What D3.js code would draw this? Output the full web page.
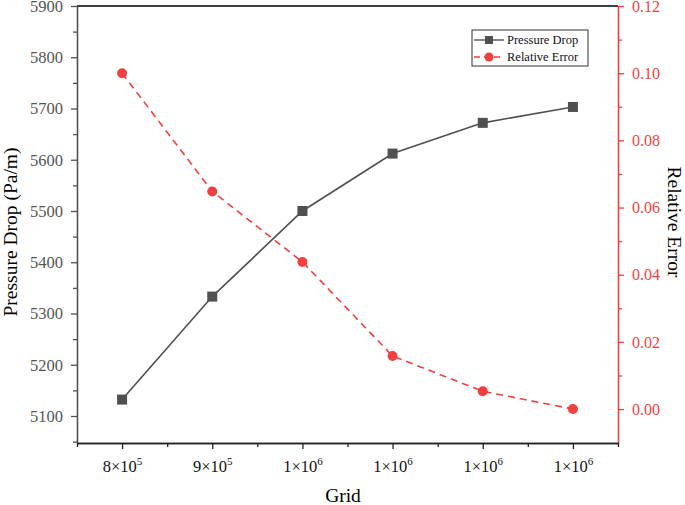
<!DOCTYPE html>
<html><head><meta charset="utf-8">
<script src="https://cdn.jsdelivr.net/npm/d3@7"></script>
<style>body{margin:0;background:#fff}text{font-family:"Liberation Serif","Times New Roman",serif}</style>
</head><body><svg id="c" width="685" height="505"></svg>
<script>
const categories = ["8×10^5","9×10^5","1×10^6","1×10^6","1×10^6","1×10^6"];
const pressureDrop = [5132, 5333, 5500, 5612, 5672, 5703];
const relativeError = [0.100, 0.0648, 0.0438, 0.0158, 0.0053, 0.0];
const leftTicks = [5100,5200,5300,5400,5500,5600,5700,5800,5900];
const rightTicks = [0.00,0.02,0.04,0.06,0.08,0.10,0.12];

const FONT = '"Liberation Serif","Times New Roman",serif';
const svg = d3.select("#c");
const L=77, R=618, T=6, B=443;
const grey="#505050", red="#f23f3f";
const x = d3.scalePoint().domain(d3.range(categories.length)).range([L,R]).padding(0.5);
const yL = d3.scaleLinear().domain([5047.3, 5900]).range([B,T]);
const yR = d3.scaleLinear().domain([-0.0101, 0.12]).range([B,T]);

// top frame
svg.append("line").attr("x1",L).attr("x2",R).attr("y1",T).attr("y2",T).attr("stroke","#000").attr("stroke-width",1.3);

// left axis
const gl = svg.append("g").attr("transform",`translate(${L},0)`);
gl.call(d3.axisLeft(yL).tickValues(leftTicks).tickSize(6).tickPadding(8).tickSizeOuter(0).tickFormat(d3.format("d")));
gl.append("g").call(d3.axisLeft(yL).tickValues(d3.range(5050,5900,100)).tickSize(4).tickFormat("").tickSizeOuter(0));
gl.selectAll("path,line").attr("stroke",grey).attr("stroke-width",1.3);
gl.attr("font-family",FONT).attr("font-size",16.5);
gl.selectAll("text").attr("fill","#555");

// right axis
const gr = svg.append("g").attr("transform",`translate(${R},0)`);
gr.call(d3.axisRight(yR).tickValues(rightTicks).tickSize(6).tickPadding(8).tickSizeOuter(0).tickFormat(d3.format(".2f")));
gr.append("g").call(d3.axisRight(yR).tickValues([0.01,0.03,0.05,0.07,0.09,0.11]).tickSize(4).tickFormat("").tickSizeOuter(0));
gr.selectAll("path,line").attr("stroke",red).attr("stroke-width",1.3);
gr.attr("font-family",FONT).attr("font-size",16);
gr.selectAll("text").attr("fill",red);

// bottom axis
const gb = svg.append("g").attr("transform",`translate(0,${B})`).attr("font-family",FONT);
const gbMain = gb.append("g").call(d3.axisBottom(x).tickSize(6).tickSizeOuter(0).tickFormat(""));
gb.append("g").call(d3.axisBottom(d3.scaleLinear().domain([0,1]).range([L,R])).tickValues(d3.range(0,1.0001,1/categories.length)).tickSize(4).tickFormat("").tickSizeOuter(0));
gb.selectAll("path,line").attr("stroke","#222").attr("stroke-width",1.3);
gbMain.selectAll(".tick").each(function(d){
  const lab = categories[d].split("^");
  const t = d3.select(this).append("text").attr("y",29).attr("text-anchor","middle").attr("fill","#111").attr("font-size",16.5);
  t.append("tspan").text(lab[0]);
  t.append("tspan").text(lab[1]).attr("dy",-7).attr("font-size",11);
});

// lines
const lineP = d3.line().x((d,i)=>x(i)).y(d=>yL(d));
svg.append("path").datum(pressureDrop).attr("d",lineP).attr("fill","none").attr("stroke",grey).attr("stroke-width",1.6);
const lineE = d3.line().x((d,i)=>x(i)).y(d=>yR(d));
svg.append("path").datum(relativeError).attr("d",lineE).attr("fill","none").attr("stroke",red).attr("stroke-width",1.6).attr("stroke-dasharray","7,5");

svg.selectAll(".sq").data(pressureDrop).join("rect").attr("x",(d,i)=>x(i)-5).attr("y",d=>yL(d)-5).attr("width",10).attr("height",10).attr("fill",grey);
svg.selectAll(".ci").data(relativeError).join("circle").attr("cx",(d,i)=>x(i)).attr("cy",d=>yR(d)).attr("r",5).attr("fill",red);

// axis titles
svg.append("text").attr("transform","translate(17,232) rotate(-90)").attr("text-anchor","middle").style("font-size","19.5px").attr("fill","#000").text("Pressure Drop (Pa/m)");
svg.append("text").attr("transform","translate(668,222) rotate(90)").attr("text-anchor","middle").style("font-size","19.5px").attr("fill","#000").text("Relative Error");
svg.append("text").attr("x",343).attr("y",502).attr("text-anchor","middle").style("font-size","19.5px").attr("fill","#000").text("Grid");

// legend
const lg = svg.append("g");
lg.append("rect").attr("x",472).attr("y",30).attr("width",116).attr("height",36).attr("fill","#fff").attr("stroke","#333").attr("stroke-width",1);
lg.append("line").attr("x1",474).attr("x2",504).attr("y1",40).attr("y2",40).attr("stroke",grey).attr("stroke-width",1.4);
lg.append("rect").attr("x",485).attr("y",36).attr("width",8).attr("height",8).attr("fill",grey);
lg.append("text").attr("x",507).attr("y",44).style("font-size","12.5px").attr("fill","#111").text("Pressure Drop");
lg.append("line").attr("x1",474).attr("x2",504).attr("y1",57).attr("y2",57).attr("stroke",red).attr("stroke-width",1.4).attr("stroke-dasharray","6,4");
lg.append("circle").attr("cx",489).attr("cy",57).attr("r",4.5).attr("fill",red);
lg.append("text").attr("x",507).attr("y",61).style("font-size","12.5px").attr("fill","#111").text("Relative Error");
</script></body></html>
